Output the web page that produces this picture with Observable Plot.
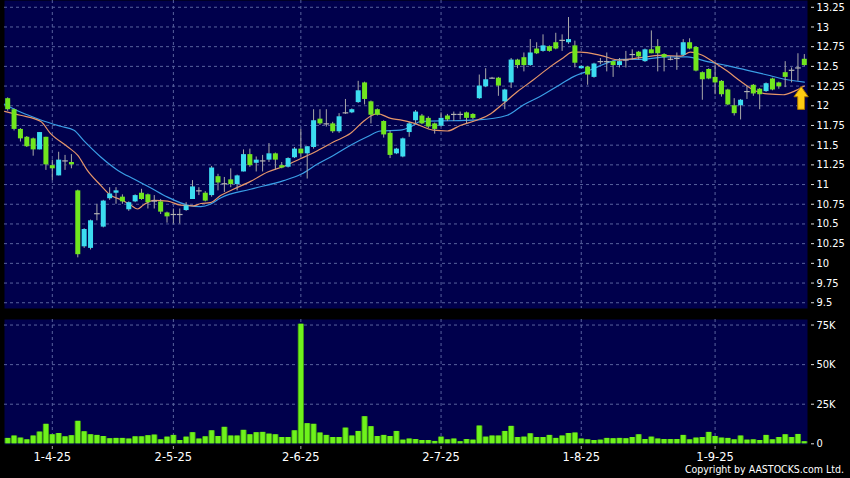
<!DOCTYPE html>
<html><head><meta charset="utf-8">
<script src="https://cdn.jsdelivr.net/npm/d3@7"></script>
<script src="https://cdn.jsdelivr.net/npm/@observablehq/plot@0.6"></script>
<style>
html,body{margin:0;padding:0;background:#000;width:850px;height:478px;overflow:hidden}
#chart{position:relative;width:850px;height:478px;font-family:"DejaVu Sans Condensed","DejaVu Sans",sans-serif}
#price{position:absolute;left:0;top:0}
#vol{position:absolute;left:0;top:308px}
#copy{position:absolute;right:6px;top:463px;line-height:12px;color:#fff;font-size:10.5px;font-family:"DejaVu Sans Condensed","DejaVu Sans",sans-serif}
svg{overflow:visible}
</style></head><body>
<div id="chart"><div id="price"></div><div id="vol"></div><div id="copy">Copyright by AASTOCKS.com Ltd.</div></div>
<script>
// ---- data (trading-day index 0..125) ----
const opens = [12.09,11.95,11.70,11.60,11.58,11.44,11.60,11.24,11.11,11.30,11.28,10.92,10.21,10.19,10.63,10.46,10.82,10.89,10.84,10.68,
10.78,10.89,10.87,10.79,10.78,10.64,10.62,10.62,10.67,10.81,10.92,10.89,10.86,11.10,11.01,11.06,11.00,11.16,11.38,11.27,
11.30,11.31,11.39,11.24,11.22,11.34,11.45,11.39,11.47,11.83,11.77,11.77,11.67,11.91,11.91,12.04,12.29,12.05,11.95,11.80,
11.65,11.39,11.35,11.66,11.81,11.87,11.84,11.77,11.74,11.87,11.89,11.89,11.91,11.89,12.09,12.24,12.35,12.35,12.05,12.29,
12.58,12.61,12.51,12.72,12.69,12.75,12.80,12.83,12.80,12.76,12.47,12.49,12.36,12.56,12.56,12.56,12.51,12.58,12.65,12.68,
12.56,12.71,12.75,12.65,12.59,12.60,12.64,12.80,12.74,12.42,12.46,12.36,12.31,12.20,12.00,12.00,12.18,12.26,12.21,12.18,
12.34,12.29,12.42,12.45,12.48,12.59];
const closes = [11.95,11.70,11.58,11.48,11.44,11.66,11.25,11.20,11.31,11.30,11.25,10.11,10.43,10.54,10.63,10.79,10.88,10.92,10.78,10.77,
10.86,10.81,10.77,10.79,10.65,10.59,10.62,10.62,10.73,10.97,10.92,10.79,11.21,11.02,11.01,11.00,11.11,11.38,11.24,11.31,
11.30,11.39,11.31,11.21,11.33,11.45,11.39,11.48,11.81,11.77,11.77,11.67,11.86,11.91,11.95,12.19,12.08,11.88,11.88,11.63,
11.37,11.45,11.58,11.77,11.92,11.77,11.73,11.70,11.84,11.82,11.89,11.89,11.84,11.84,12.25,12.33,12.35,12.25,12.20,12.58,
12.51,12.51,12.67,12.66,12.76,12.69,12.72,12.83,12.84,12.54,12.50,12.39,12.53,12.56,12.56,12.51,12.56,12.58,12.65,12.62,
12.71,12.66,12.66,12.61,12.59,12.60,12.80,12.72,12.44,12.33,12.34,12.29,12.14,12.01,11.90,12.07,12.18,12.15,12.14,12.28,
12.20,12.24,12.36,12.45,12.48,12.51];
const highs = [12.10,11.96,11.71,11.61,11.59,11.66,11.60,11.31,11.41,11.37,11.38,10.93,10.44,10.55,10.75,10.80,10.96,10.96,10.87,10.78,
10.87,10.94,10.88,10.86,10.81,10.65,10.69,10.69,10.77,11.05,10.96,10.91,11.23,11.13,11.09,11.20,11.12,11.44,11.45,11.35,
11.37,11.52,11.40,11.28,11.34,11.47,11.70,11.48,11.95,11.95,11.95,11.79,11.90,12.08,11.96,12.31,12.30,12.06,11.96,11.81,
11.68,11.46,11.59,11.79,11.94,11.89,11.86,11.78,11.91,11.89,11.92,11.92,11.92,11.90,12.39,12.47,12.36,12.36,12.21,12.60,
12.59,12.67,12.84,12.80,12.90,12.76,12.92,12.90,13.12,12.82,12.51,12.50,12.54,12.60,12.67,12.57,12.60,12.69,12.71,12.69,
12.72,12.95,12.84,12.66,12.62,12.67,12.84,12.85,12.75,12.43,12.47,12.52,12.32,12.21,12.09,12.08,12.25,12.27,12.22,12.29,
12.35,12.30,12.56,12.48,12.66,12.65];
const lows = [11.93,11.68,11.54,11.47,11.36,11.44,11.18,11.05,11.11,11.18,11.20,10.07,10.19,10.17,10.54,10.45,10.80,10.75,10.75,10.66,
10.77,10.80,10.69,10.69,10.62,10.51,10.50,10.50,10.66,10.81,10.86,10.78,10.84,10.92,10.90,10.96,10.92,11.16,11.22,11.16,
11.16,11.28,11.18,11.20,11.21,11.33,11.35,11.07,11.45,11.75,11.73,11.65,11.65,11.89,11.90,12.03,12.01,11.77,11.87,11.59,
11.33,11.38,11.34,11.60,11.77,11.76,11.71,11.64,11.73,11.80,11.80,11.82,11.77,11.82,12.08,12.23,12.34,12.12,11.95,12.22,
12.47,12.43,12.50,12.65,12.68,12.68,12.71,12.69,12.78,12.48,12.47,12.26,12.35,12.52,12.43,12.36,12.48,12.48,12.58,12.58,
12.55,12.66,12.43,12.43,12.57,12.45,12.63,12.71,12.43,12.07,12.33,12.14,12.11,12.00,11.87,11.82,12.08,12.12,11.95,12.17,
12.19,12.21,12.23,12.29,12.31,12.50];
// volume in thousands
const volumes = [3.4,4.9,3.6,2.5,4.9,7.4,12.3,5.7,6.5,4.4,5.1,14.2,7.6,5.7,5.3,4.6,3.2,3.4,3.4,3.0,
4.4,4.4,5.1,5.5,2.5,4.2,5.3,2.1,4.2,7.0,3.0,4.4,8.2,4.6,10.4,4.9,4.9,8.5,5.7,7.0,
7.2,6.1,5.7,4.0,4.0,8.2,75.5,12.7,12.3,6.8,5.3,4.0,4.0,9.9,4.9,7.8,17.1,10.8,4.6,5.3,
4.6,7.8,2.3,3.0,2.7,2.1,2.1,1.5,4.2,2.5,3.0,1.3,2.7,2.3,11.2,4.2,4.9,4.9,7.8,11.0,
4.0,4.2,6.3,4.0,4.0,5.3,3.4,4.9,6.5,6.8,3.0,2.5,2.1,2.3,3.4,3.2,3.4,3.2,4.0,5.7,
2.7,4.2,3.0,2.7,2.7,2.7,5.3,2.5,3.6,4.0,7.2,4.6,3.6,3.4,2.5,4.9,2.3,2.5,2.1,5.3,
2.5,4.0,5.7,4.0,5.9,1.3];
// moving averages
const ma10Days = [-0.5,2,5.2,6.7,9.4,11,12.5,14.6,16.2,17.7,19.3,20.4,21.3,22.9,25.1,27.1,29.2,30.3,31.8,33.4,35.4,38.1,40.8,43.3,46,48.6,51.1,53.8,55.8,57.2,58,60.1,61.6,63.7,66.8,69,71,73.7,75.8,77.8,80,82.5,85.2,87.2,88.6,89.9,93,96.1,99.3,102.4,105.6,107.1,108.7,110.7,112.9,115,117,119.2,121.7,123.3,125];
const ma10 = [11.93,11.88,11.80,11.65,11.48,11.37,11.18,10.99,10.86,10.81,10.74,10.69,10.74,10.80,10.79,10.74,10.73,10.76,10.77,10.86,10.94,11.04,11.16,11.23,11.33,11.43,11.54,11.65,11.80,11.88,11.90,11.84,11.82,11.78,11.69,11.68,11.75,11.82,11.90,12.03,12.18,12.33,12.50,12.61,12.68,12.68,12.64,12.58,12.61,12.64,12.63,12.68,12.65,12.56,12.44,12.31,12.20,12.15,12.14,12.18,12.25];
const ma20Days = [-0.5,2,5.2,8.3,10.4,11.9,14.6,17.3,19.8,22.4,25.1,28.2,30.3,31.8,33.4,38.1,43.3,46,48.6,51.1,53.8,56.5,58.5,61.6,63.2,64.8,69.5,73.7,78.4,80.9,83.6,86.3,88.8,91,93,94.6,96.1,99.3,103.5,106.6,109.8,112.9,116.1,119.2,121.7,125];
const ma20 = [12.02,11.92,11.82,11.74,11.69,11.56,11.35,11.18,11.07,10.96,10.84,10.74,10.72,10.75,10.83,10.94,11.05,11.13,11.26,11.37,11.50,11.61,11.68,11.69,11.73,11.80,11.81,11.82,11.88,12.01,12.12,12.25,12.37,12.44,12.51,12.56,12.59,12.59,12.62,12.62,12.56,12.51,12.45,12.39,12.34,12.30];
// axis ticks
const tickDays = [7,26,46,68,90,111];
const tickLabels = ["1-4-25","2-5-25","2-6-25","2-7-25","1-8-25","1-9-25"];
const priceTicks = [9.5,9.75,10,10.25,10.5,10.75,11,11.25,11.5,11.75,12,12.25,12.5,12.75,13,13.25];
const volTicks = [0,25,50,75];
const volTickLabels = ["0","25K","50K","75K"];
const signal = [{day:124.5, price:12.1}];

// ---- build ----
const candles = opens.map((o,i)=>({day:i, open:o, close:closes[i], high:highs[i], low:lows[i], vol:volumes[i]}));
const bodies = candles.filter(d=>d.close!==d.open);
const dojis = candles.filter(d=>d.close===d.open);
const UP="#3cdcf0", DOWN="#70e61e", DOJI="#b4b4b4", WICK="#a8a8a8";
const GRID="#58629e", PANEL="#00004c";
const font = "'DejaVu Sans Condensed','DejaVu Sans',sans-serif";
const hline = {draw(ctx,size){const r=Math.sqrt(size/Math.PI);ctx.moveTo(-r,0);ctx.lineTo(r,0);}};
const upArrow = {draw(ctx,size){const r=Math.sqrt(size/Math.PI);const hw=r*0.62,sw=r*0.3,hh=r*0.9;
  ctx.moveTo(0,-r);ctx.lineTo(hw,-r+hh);ctx.lineTo(sw,-r+hh);ctx.lineTo(sw,r);ctx.lineTo(-sw,r);ctx.lineTo(-sw,-r+hh);ctx.lineTo(-hw,-r+hh);ctx.closePath();}};
const fmtP = d => String(+d.toFixed(2));
const xDomain = [-0.5, 125.5];

const price = Plot.plot({
  width:850, height:308, marginLeft:4, marginRight:43, marginTop:0, marginBottom:0,
  style:{background:"transparent", color:"#fff", fontFamily:font, fontSize:"11px"},
  x:{domain:xDomain, axis:null},
  y:{domain:[9.427,13.336], axis:null},
  marks:[
    Plot.frame({fill:PANEL, stroke:null}),
    Plot.ruleY(priceTicks, {stroke:GRID, strokeDasharray:"3,3"}),
    Plot.ruleX(tickDays, {stroke:GRID, strokeDasharray:"3,3"}),
    Plot.line(ma20Days.map((d,i)=>({day:d, v:ma20[i]})), {x:"day", y:"v", stroke:"#3a9ee6", strokeWidth:1.2, curve:"monotone-x"}),
    Plot.line(ma10Days.map((d,i)=>({day:d, v:ma10[i]})), {x:"day", y:"v", stroke:"#e6966a", strokeWidth:1.2, curve:"monotone-x"}),
    Plot.ruleX(candles, {x:"day", y1:"low", y2:"high", stroke:WICK, strokeWidth:1}),
    Plot.ruleX(bodies, {x:"day", y1:"open", y2:"close", stroke:d=>d.close>d.open?UP:DOWN, strokeWidth:5}),
    Plot.dot(dojis, {x:"day", y:"open", symbol:hline, r:2.8, stroke:DOJI, strokeWidth:1.2, fill:"none"}),
    Plot.dot(signal, {x:"day", y:"price", symbol:upArrow, r:11.5, fill:"#ffcc11", stroke:"#a87400", strokeWidth:1}),
    Plot.axisY(priceTicks, {anchor:"right", label:null, tickFormat:fmtP, tickSize:3, tickPadding:3, dx:3, stroke:"#ddd", fill:"#fff", fontSize:11})
  ]
});
document.getElementById("price").appendChild(price);

const vol = Plot.plot({
  width:850, height:170, marginLeft:4, marginRight:43, marginTop:11, marginBottom:34,
  style:{background:"transparent", color:"#fff", fontFamily:font, fontSize:"11px"},
  x:{domain:xDomain, axis:null},
  y:{domain:[-0.44,78.5], axis:null},
  marks:[
    Plot.frame({fill:PANEL, stroke:null}),
    Plot.ruleY(volTicks.slice(1), {stroke:GRID, strokeDasharray:"3,3"}),
    Plot.ruleX(tickDays, {stroke:GRID, strokeDasharray:"3,3"}),
    Plot.ruleX(candles, {x:"day", y1:0, y2:"vol", stroke:"#3f9a12", strokeWidth:6.2}),
    Plot.ruleX(candles, {x:"day", y1:0, y2:"vol", stroke:"#6ef21c", strokeWidth:4.4}),
    Plot.axisY(volTicks, {anchor:"right", label:null, tickFormat:d=>volTickLabels[volTicks.indexOf(d)], tickSize:3, tickPadding:3, dx:3, stroke:"#ddd", fill:"#fff", fontSize:11}),
    Plot.axisX(tickDays, {anchor:"bottom", label:null, tickFormat:d=>tickLabels[tickDays.indexOf(d)], tickSize:3, tickPadding:3, dy:2, stroke:"#aaa", fill:"#fff", fontSize:11.5, fontFamily:"'DejaVu Sans',sans-serif"})
  ]
});
document.getElementById("vol").appendChild(vol);
</script>
</body></html>
